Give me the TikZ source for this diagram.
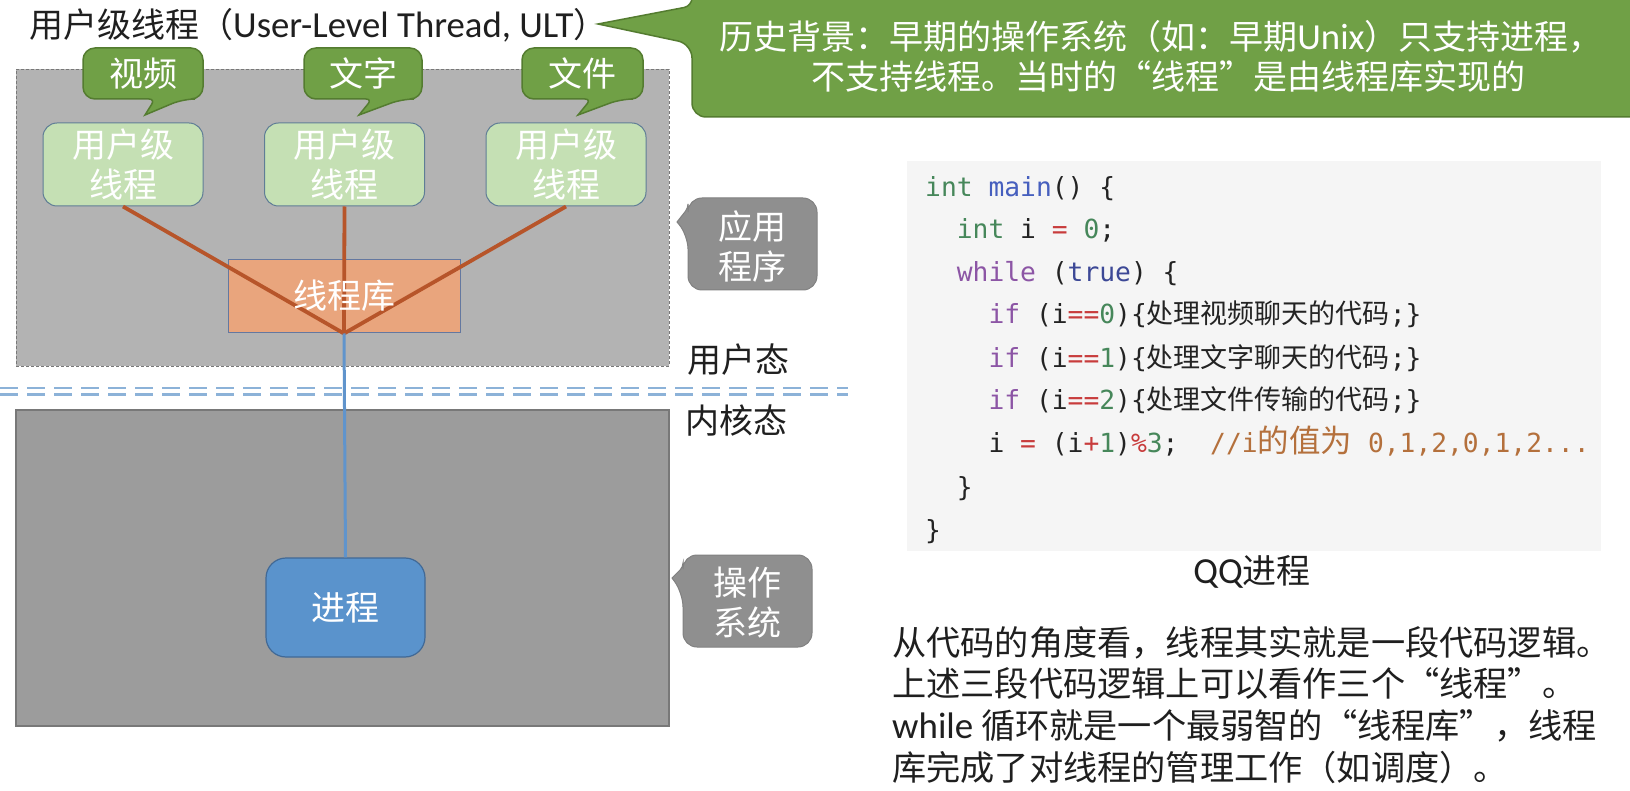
\documentclass[tikz,border=0pt]{standalone}
\usepackage{fontspec}
\setmainfont{Noto Sans CJK SC}
\newfontfamily\lat[Scale=1.08]{Carlito}
\newfontfamily\mono{DejaVu Sans Mono}
\newfontfamily\cjkc{Noto Sans CJK SC}
\newcommand\fs{\fontsize{34}{40}\selectfont}
\newcommand\fsb{\fontsize{34}{40}\selectfont}
\newcommand\fsp{\fontsize{34.2}{40}\selectfont}
\newcommand\codefont{\mono\fontsize{26.3}{30}\selectfont}
\newcommand\csp{\hspace*{15.83pt}}
\newcommand\cjkcode[1]{{\cjkc\fontsize{27}{30}\selectfont #1}}
\newcommand\cjkcom[1]{{\cjkc\fontsize{31.5}{30}\selectfont #1}}
\definecolor{gfill}{RGB}{112,160,70}
\definecolor{gdraw}{RGB}{84,124,48}
\definecolor{tfill}{RGB}{197,224,180}
\definecolor{tdraw}{RGB}{95,125,150}
\definecolor{libfill}{RGB}{233,165,125}
\definecolor{libdraw}{RGB}{100,120,160}
\definecolor{lnbrown}{RGB}{183,85,42}
\definecolor{lnblue}{RGB}{96,148,204}
\definecolor{appfill}{RGB}{179,179,179}
\definecolor{osfill}{RGB}{156,156,156}
\definecolor{boxdraw}{RGB}{120,120,120}
\definecolor{procfill}{RGB}{90,147,204}
\definecolor{procdraw}{RGB}{65,105,150}
\definecolor{callgray}{RGB}{143,143,143}
\definecolor{dashblue}{RGB}{140,178,216}
\definecolor{codebg}{RGB}{245,245,245}
\definecolor{cint}{RGB}{70,135,90}
\definecolor{cfn}{RGB}{70,95,190}
\definecolor{ckw}{RGB}{140,85,165}
\definecolor{ctrue}{RGB}{60,72,150}
\definecolor{cop}{RGB}{200,60,60}
\definecolor{cnum}{RGB}{70,135,90}
\definecolor{ccom}{RGB}{180,112,60}
\definecolor{ctext}{RGB}{35,35,35}
\tikzset{
  gbub/.style={fill=gfill, draw=gdraw, line width=1.5pt},
  gcall/.style={fill=gfill, draw=gdraw, line width=1.5pt},
  graycall/.style={fill=callgray, draw=callgray!90!black, line width=1pt},
  tbox/.style={fill=tfill, draw=tdraw, line width=1pt, rounded corners=14, minimum width=160, minimum height=83, align=center, font=\fs, text=white},
  libbox/.style={fill=libfill, draw=libdraw, line width=1pt, minimum width=232, minimum height=73},
  procbox/.style={fill=procfill, draw=procdraw, line width=1.2pt, rounded corners=20, minimum width=159, minimum height=99, font=\fs, text=white},
  appbox/.style={fill=appfill, draw=boxdraw, line width=0.8pt, dash pattern=on 3pt off 2pt, minimum width=653, minimum height=297},
  osbox/.style={fill=osfill, draw=boxdraw, line width=1.2pt, minimum width=653, minimum height=316},
  brownln/.style={draw=lnbrown, line width=3.8pt},
  blueln/.style={draw=lnblue, line width=3pt},
  dashln/.style={draw=dashblue, line width=2.2pt, dash pattern=on 18pt off 9pt},
  wtext/.style={font=\fs, text=white, align=center},
  btext/.style={font=\fs, text=black!88, align=center},
  codeln/.style={anchor=base west, font=\codefont, text=ctext, inner sep=0pt},
  paraln/.style={anchor=base west, font=\fsp, text=black!88, inner sep=0pt},
}
\begin{document}
\begin{tikzpicture}[x=1pt,y=-1pt]
\useasboundingbox (0,0) rectangle (1630,791);
\fill[white] (0,0) rectangle (1630,791);

% big region boxes
\node[appbox] (app) at (342.5,217.5) {};
\node[osbox] (os) at (342.5,568) {};

% user/kernel boundary
\coordinate (d1a) at (0,388);
\coordinate (d1b) at (848,388);
\coordinate (d2a) at (0,394.5);
\coordinate (d2b) at (848,394.5);
\draw[dashln] (d1a) -- (d1b);
\draw[dashln] (d2a) -- (d2b);
\node[btext] (um) at (738,360) {用户态};
\node[btext] (km) at (736,421) {内核态};

% title
\node[anchor=west, font=\fs, text=black!88, inner sep=0pt] (title) at (29,25) {用户级线程（{\lat User-Level Thread, ULT}）};

% big green callout
\path[gcall, rounded corners=14] (692,-30) -- (1660,-30) -- (1660,117) -- (692,117) -- (692,44) [sharp corners] -- (598,24) [rounded corners=8] -- (692,6) -- cycle;
\node[wtext, font=\fsb] (hist1) at (1161,37) {历史背景：早期的操作系统（如：早期{\lat Unix}）只支持进程，};
\node[wtext, font=\fsb] (hist2) at (1168,77) {不支持线程。当时的“线程”是由线程库实现的};

% thread boxes
\node[tbox] (t1) at (123,164.5) {用户级\\线程};
\node[tbox] (t2) at (344.5,164.5) {用户级\\线程};
\node[tbox] (t3) at (566,164.5) {用户级\\线程};

% green bubbles
\path[gbub, rounded corners=12] (83,48) -- (203,48) -- (203,99) -- (183,99) [sharp corners] -- (145,115) [rounded corners=6] -- (155,99) [rounded corners=12] -- (83,99) -- cycle;
\node[wtext] (b1) at (143,73.5) {视频};
\path[gbub, rounded corners=12] (304,48) -- (422,48) -- (422,99) -- (402,99) [sharp corners] -- (359,115) [rounded corners=6] -- (372,99) [rounded corners=12] -- (304,99) -- cycle;
\node[wtext] (b2) at (363,73.5) {文字};
\path[gbub, rounded corners=12] (522,48) -- (643,48) -- (643,99) -- (621,99) [sharp corners] -- (578,115) [rounded corners=6] -- (591,99) [rounded corners=12] -- (522,99) -- cycle;
\node[wtext] (b3) at (582.5,73.5) {文件};

% thread library
\node[libbox] (lib) at (344,296.5) {};
\draw[brownln] (t1.south) -- (lib.south);
\draw[brownln] (t2.south) -- (lib.south);
\draw[brownln] (t3.south) -- (lib.south);
\node[wtext] (libtxt) at (344,296) {线程库};

% process
\node[procbox] (proc) at (345.5,607.5) {进程};
\draw[blueln] (lib.south) -- (proc.north);

% gray callouts
\path[graycall, rounded corners=14] (688,198) -- (817,198) -- (817,290) -- (688,290) -- (688,235) [sharp corners] -- (677,222) [rounded corners=4] -- (688,208) [rounded corners=14] -- cycle;
\node[wtext] (appl) at (752.5,246) {应用\\程序};
\path[graycall, rounded corners=14] (683,555) -- (812,555) -- (812,647) -- (683,647) -- (683,593) [sharp corners] -- (672,578) [rounded corners=4] -- (683,567) [rounded corners=14] -- cycle;
\node[wtext] (osl) at (747.5,603) {操作\\系统};

% code box
\node[fill=codebg, minimum width=694, minimum height=390] (code) at (1254,356) {};
\node[codeln] (c1) at (925,197) {\textcolor{cint}{int}\csp\textcolor{cfn}{main}()\csp\{};
\node[codeln] (c2) at (956.7,239) {\textcolor{cint}{int}\csp i\csp\textcolor{cop}{=}\csp\textcolor{cnum}{0};};
\node[codeln] (c3) at (956.7,282) {\textcolor{ckw}{while}\csp(\textcolor{ctrue}{true})\csp\{};
\node[codeln] (c4) at (988.3,324) {\textcolor{ckw}{if}\csp(i\textcolor{cop}{==}\textcolor{cnum}{0})\{\cjkcode{处理视频聊天的代码};\}};
\node[codeln] (c5) at (988.3,367) {\textcolor{ckw}{if}\csp(i\textcolor{cop}{==}\textcolor{cnum}{1})\{\cjkcode{处理文字聊天的代码};\}};
\node[codeln] (c6) at (988.3,409) {\textcolor{ckw}{if}\csp(i\textcolor{cop}{==}\textcolor{cnum}{2})\{\cjkcode{处理文件传输的代码};\}};
\node[codeln] (c7) at (988.3,452) {i\csp\textcolor{cop}{=}\csp(i\textcolor{cop}{+}\textcolor{cnum}{1})\textcolor{cop}{\%}\textcolor{cnum}{3};\csp\csp\textcolor{ccom}{//i\cjkcom{的值为}\csp 0,1,2,0,1,2...}};
\node[codeln] (c8) at (956.7,496) {\}};
\node[codeln] (c9) at (925,539) {\}};

\node[btext] (qq) at (1252,572) {{\lat QQ}进程};

% explanation
\node[paraln] (p1) at (892,655) {从代码的角度看，线程其实就是一段代码逻辑。};
\node[paraln] (p2) at (892,696) {上述三段代码逻辑上可以看作三个“线程”。};
\node[paraln] (p3) at (892,738) {{\lat while} 循环就是一个最弱智的“线程库”，线程};
\node[paraln] (p4) at (892,780) {库完成了对线程的管理工作（如调度）。};
\end{tikzpicture}
\end{document}
